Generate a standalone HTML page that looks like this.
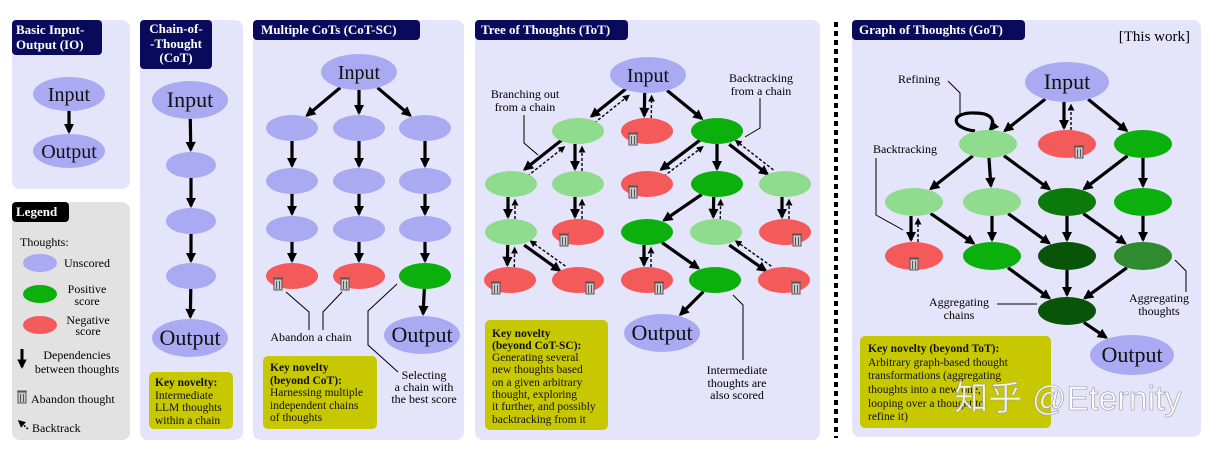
<!DOCTYPE html>
<html><head><meta charset="utf-8"><style>
html,body{margin:0;padding:0;background:#fff;}
svg{display:block;font-family:"Liberation Serif",serif;}
</style></head><body>
<svg id="s" width="1216" height="452" viewBox="0 0 1216 452" xmlns="http://www.w3.org/2000/svg">
<defs>
<marker id="ah" viewBox="0 0 10 10" refX="8" refY="5" markerWidth="3.2" markerHeight="3.2" orient="auto"><path d="M0,0L10,5L0,10z" fill="#000"/></marker>
<marker id="ahs" viewBox="0 0 10 10" refX="8" refY="5" markerWidth="5" markerHeight="5" orient="auto"><path d="M0,0L10,5L0,10z" fill="#000"/></marker>
</defs>
<g>
<rect x="12" y="20" width="118" height="169" rx="8" fill="#e4e4fb"/>
<rect x="12" y="202" width="118" height="238" rx="8" fill="#e2e2e2"/>
<rect x="140" y="20" width="103" height="420" rx="8" fill="#e4e4fb"/>
<rect x="253" y="20" width="211" height="420" rx="8" fill="#e4e4fb"/>
<rect x="475" y="20" width="345" height="420" rx="8" fill="#e4e4fb"/>
<rect x="852" y="20" width="349" height="417" rx="8" fill="#e4e4fb"/>
<line x1="836" y1="22" x2="836" y2="438" stroke="#000" stroke-width="4" stroke-dasharray="5,4"/>
</g>
<g font-weight="bold" font-size="13" fill="#fff">
<rect x="12" y="20" width="90" height="35" rx="4" fill="#0a0a5c"/>
<text x="16" y="34">Basic Input-</text>
<text x="16" y="49">Output (IO)</text>
<rect x="140" y="20" width="72" height="49" rx="4" fill="#0a0a5c"/>
<text x="176" y="33" text-anchor="middle">Chain-of-</text>
<text x="176" y="48" text-anchor="middle">-Thought</text>
<text x="176" y="62" text-anchor="middle">(CoT)</text>
<rect x="253" y="20" width="167" height="20" rx="4" fill="#0a0a5c"/>
<text x="261" y="34">Multiple CoTs (CoT-SC)</text>
<rect x="475" y="20" width="153" height="20" rx="4" fill="#0a0a5c"/>
<text x="481" y="34">Tree of Thoughts (ToT)</text>
<rect x="852" y="20" width="173" height="20" rx="4" fill="#0a0a5c"/>
<text x="859" y="34">Graph of Thoughts (GoT)</text>
<rect x="12" y="202" width="57" height="20" rx="4" fill="#000"/>
<text x="16" y="216">Legend</text>
</g>
<text x="1190" y="41" text-anchor="end" font-size="15">[This work]</text>
<g id="marks"></g>
<g font-size="12" fill="#000">
<text x="20" y="246">Thoughts:</text>
<ellipse cx="40" cy="263" rx="17" ry="9" fill="#aaaaf2"/>
<text x="64" y="267">Unscored</text>
<ellipse cx="40" cy="294" rx="17" ry="9" fill="#0cb00c"/>
<text x="87" y="293" text-anchor="middle">Positive</text>
<text x="87" y="305" text-anchor="middle">score</text>
<ellipse cx="40" cy="325" rx="17" ry="9" fill="#f45a5a"/>
<text x="88" y="324" text-anchor="middle">Negative</text>
<text x="88" y="335" text-anchor="middle">score</text>
<line x1="22" y1="349" x2="22" y2="367" stroke="#000" stroke-width="3" marker-end="url(#ah)"/>
<text x="77" y="359" text-anchor="middle">Dependencies</text>
<text x="77" y="373" text-anchor="middle">between thoughts</text>
<text x="31" y="403">Abandon thought</text>
<line x1="28" y1="429" x2="19" y2="421" stroke="#000" stroke-width="1.5" stroke-dasharray="2,1.5" marker-end="url(#ahs)"/>
<text x="32" y="432">Backtrack</text>
</g>
<g font-size="12" fill="#000" text-anchor="middle">
<text x="311" y="341">Abandon a chain</text>
<polyline points="286,292 309,312 309,330" fill="none" stroke="#000"/>
<polyline points="342,292 323,312 323,330" fill="none" stroke="#000"/>
<text x="424" y="379">Selecting</text>
<text x="424" y="391">a chain with</text>
<text x="424" y="403">the best score</text>
<polyline points="397,284 368,311 368,345 398,372" fill="none" stroke="#000"/>
<text x="525" y="98">Branching out</text>
<text x="525" y="111">from a chain</text>
<polyline points="524,115 524,143 538,155" fill="none" stroke="#000"/>
<text x="761" y="82">Backtracking</text>
<text x="761" y="95">from a chain</text>
<polyline points="760,98 760,128 745,137" fill="none" stroke="#000"/>
<text x="737" y="374">Intermediate</text>
<text x="737" y="387">thoughts are</text>
<text x="737" y="399">also scored</text>
<polyline points="733,295 743,305 743,360" fill="none" stroke="#000"/>
<text x="919" y="83">Refining</text>
<polyline points="948,81 960,93 960,115" fill="none" stroke="#000"/>
<text x="905" y="153">Backtracking</text>
<polyline points="876,158 876,215 903,230" fill="none" stroke="#000"/>
<text x="959" y="306">Aggregating</text>
<text x="959" y="319">chains</text>
<line x1="997" y1="304" x2="1037" y2="304" stroke="#000"/>
<text x="1159" y="302">Aggregating</text>
<text x="1159" y="315">thoughts</text>
<polyline points="1175,260 1186,271 1186,292" fill="none" stroke="#000"/>
</g>
<g font-size="11.5" fill="#111">
<rect x="149" y="372" width="84" height="57" rx="5" fill="#c8c800"/>
<text x="155" y="386" font-weight="bold">Key novelty:</text>
<text x="155" y="399">Intermediate</text>
<text x="155" y="411">LLM thoughts</text>
<text x="155" y="424">within a chain</text>
<rect x="263" y="356" width="114" height="73" rx="5" fill="#c8c800"/>
<text x="270" y="371" font-weight="bold">Key novelty</text>
<text x="270" y="384" font-weight="bold">(beyond CoT):</text>
<text x="270" y="396">Harnessing multiple</text>
<text x="270" y="409">independent chains</text>
<text x="270" y="421">of thoughts</text>
<rect x="485" y="320" width="123" height="110" rx="5" fill="#c8c800"/>
<text x="492" y="337" font-weight="bold">Key novelty</text>
<text x="492" y="349" font-weight="bold">(beyond CoT-SC):</text>
<text x="492" y="361">Generating several</text>
<text x="492" y="373">new thoughts based</text>
<text x="492" y="386">on a given arbitrary</text>
<text x="492" y="398">thought, exploring</text>
<text x="492" y="410">it further, and possibly</text>
<text x="492" y="423">backtracking from it</text>
<rect x="860" y="336" width="191" height="92" rx="5" fill="#c8c800"/>
<text x="868" y="352" font-weight="bold">Key novelty (beyond ToT):</text>
<text x="868" y="366">Arbitrary graph-based thought</text>
<text x="868" y="379">transformations (aggregating</text>
<text x="868" y="393">thoughts into a new one,</text>
<text x="868" y="407">looping over a thought to</text>
<text x="868" y="420">refine it)</text>
</g>
<text x="1068" y="410" text-anchor="middle" font-family="'Liberation Sans','Noto Sans CJK SC',sans-serif" font-size="34" fill="#fff" fill-opacity="0.85" stroke="#999" stroke-width="0.6">知乎 @Eternity</text>
</svg>
<script>
const NS="http://www.w3.org/2000/svg";
const C={u:"#aaaaf2",r:"#f45a5a",g:"#0cb00c",l:"#8fdc8f",d:"#0b7a0b",k:"#085408",m:"#2e8b2e"};
const nodes=[
["io-in",69,94,36,17,"u","Input"],["io-out",69,151,36,17,"u","Output"],
["cot-in",190,100,38,19,"u","Input"],["cot-1",191,165,25,13,"u"],["cot-2",191,221,25,13,"u"],["cot-3",191,276,25,13,"u"],["cot-out",190,338,38,19,"u","Output"],
["sc-in",359,72,38,18,"u","Input"],
["sc-a1",292,128,26,13,"u"],["sc-b1",359,128,26,13,"u"],["sc-c1",425,128,26,13,"u"],
["sc-a2",292,181,26,13,"u"],["sc-b2",359,181,26,13,"u"],["sc-c2",425,181,26,13,"u"],
["sc-a3",292,229,26,13,"u"],["sc-b3",359,229,26,13,"u"],["sc-c3",425,229,26,13,"u"],
["sc-a4",292,276,26,13,"r",null,"bl"],["sc-b4",359,276,26,13,"r",null,"bl"],["sc-c4",425,276,26,13,"g"],
["sc-out",422,335,38,19,"u","Output"],
["tot-in",648,75,38,18,"u","Input"],
["t1a",578,131,26,13,"l"],["t1b",647,131,26,13,"r",null,"bl"],["t1c",717,131,26,13,"g"],
["t2a",511,184,26,13,"l"],["t2b",578,184,26,13,"l"],["t2c",647,184,26,13,"r",null,"bl"],["t2d",717,184,26,13,"g"],["t2e",785,184,26,13,"l"],
["t3a",511,232,26,13,"l"],["t3b",578,232,26,13,"r",null,"bl"],["t3c",647,232,26,13,"g"],["t3d",716,232,26,13,"l"],["t3e",785,232,26,13,"r",null,"br"],
["t4a",510,280,26,13,"r",null,"bl"],["t4b",578,280,26,13,"r",null,"br"],["t4c",647,280,26,13,"r",null,"br"],["t4d",715,280,26,13,"g"],["t4e",784,280,26,13,"r",null,"br"],
["tot-out",662,333,38,19,"u","Output"],
["got-in",1067,82,42,20,"u","Input"],
["g1a",988,144,29,14,"l"],["g1b",1067,144,29,14,"r",null,"br"],["g1c",1143,144,29,14,"g"],
["g2a",914,202,29,14,"l"],["g2b",992,202,29,14,"l"],["g2c",1067,202,29,14,"d"],["g2d",1143,202,29,14,"g"],
["g3a",914,256,29,14,"r",null,"c"],["g3b",992,256,29,14,"g"],["g3c",1067,256,29,14,"k"],["g3d",1143,256,29,14,"m"],
["g4",1067,311,29,14,"k"],["got-out",1132,355,42,20,"u","Output"]
];
const edges=[
["io-in","io-out","s"],["cot-in","cot-1","s"],["cot-1","cot-2","s"],["cot-2","cot-3","s"],["cot-3","cot-out","s"],
["sc-in","sc-a1","s"],["sc-in","sc-b1","s"],["sc-in","sc-c1","s"],
["sc-a1","sc-a2","s"],["sc-b1","sc-b2","s"],["sc-c1","sc-c2","s"],["sc-a2","sc-a3","s"],["sc-b2","sc-b3","s"],["sc-c2","sc-c3","s"],
["sc-a3","sc-a4","s"],["sc-b3","sc-b4","s"],["sc-c3","sc-c4","s"],["sc-c4","sc-out","s"],
["tot-in","t1a","b"],["tot-in","t1b","b"],["tot-in","t1c","s"],
["t1a","t2a","b"],["t1a","t2b","b"],["t1c","t2c","b"],["t1c","t2d","s"],["t1c","t2e","b"],
["t2a","t3a","b"],["t2b","t3b","b"],["t2d","t3c","s"],["t2d","t3d","b"],["t2e","t3e","b"],
["t3a","t4a","b"],["t3a","t4b","b"],["t3c","t4c","b"],["t3c","t4d","s"],["t3d","t4e","b"],["t4d","tot-out","s"],
["got-in","g1a","s"],["got-in","g1b","b"],["got-in","g1c","s"],
["g1a","g2a","s"],["g1a","g2b","s"],["g1a","g2c","s"],["g1c","g2c","s"],["g1c","g2d","s"],
["g2a","g3a","b"],["g2a","g3b","s"],["g2b","g3b","s"],["g2b","g3c","s"],["g2c","g3c","s"],["g2c","g3d","s"],["g2d","g3d","s"],
["g3b","g4","s"],["g3c","g4","s"],["g3d","g4","s"],["g4","got-out","s"]
];
const svg=document.getElementById("marks");
const N={};nodes.forEach(n=>N[n[0]]=n);
function bpt(n,dx,dy){const cx=n[1],cy=n[2],rx=n[3],ry=n[4];const t=1/Math.sqrt((dx*dx)/(rx*rx)+(dy*dy)/(ry*ry));return[cx+dx*t,cy+dy*t];}
function mk(tag,attrs){const e=document.createElementNS(NS,tag);for(const k in attrs)e.setAttribute(k,attrs[k]);return e;}
const eg=mk("g",{});svg.appendChild(eg);
edges.forEach(([f,t,ty])=>{
  const a=N[f],b=N[t];const dx=b[1]-a[1],dy=b[2]-a[2];const L=Math.hypot(dx,dy);const ux=dx/L,uy=dy/L;
  const nx=-uy,ny=ux; // perpendicular
  const off=ty==="b"?3:0;
  const p1=bpt(a,dx,dy),p2=bpt(b,-dx,-dy);
  const ln=mk("line",{x1:p1[0]+nx*off,y1:p1[1]+ny*off,x2:p2[0]+nx*off-ux*2,y2:p2[1]+ny*off-uy*2,stroke:"#000","stroke-width":3.2,"marker-end":"url(#ah)"});
  
  
  eg.appendChild(ln);
  if(ty==="b"){
    const q=-4;
    const bl=mk("line",{x1:p2[0]+nx*q,y1:p2[1]+ny*q,x2:p1[0]+nx*q+ux*3,y2:p1[1]+ny*q+uy*3,stroke:"#000","stroke-width":1.4,"stroke-dasharray":"3,2","marker-end":"url(#ahs)"});
    
    
    eg.appendChild(bl);
  }
});
const loop=mk("path",{d:"M975,131 C950,128 950,112 975,113 C995,113 995,124 990,130",fill:"none",stroke:"#000","stroke-width":3.2,"marker-end":"url(#ah)"});


eg.appendChild(loop);
function trash(x,y){const g=mk("g",{fill:"none",stroke:"#555","stroke-width":1});
  g.appendChild(mk("rect",{x:x-4,y:y-5,width:8,height:11,fill:"#ccc"}));
  g.appendChild(mk("line",{x1:x-5,y1:y-6,x2:x+5,y2:y-6}));
  g.appendChild(mk("line",{x1:x-1.5,y1:y-3,x2:x-1.5,y2:y+5}));g.appendChild(mk("line",{x1:x+1.5,y1:y-3,x2:x+1.5,y2:y+5}));
  return g;}
nodes.forEach(n=>{
  const[id,cx,cy,rx,ry,c,lab,tr]=n;
  const e=mk("ellipse",{cx,cy,rx,ry,fill:C[c]});
  
  
  svg.appendChild(e);
  if(lab){const t=mk("text",{x:cx,y:cy+7,"text-anchor":"middle","font-size":ry>=19?22:20,fill:"#111"});t.textContent=lab;
    
    
    svg.appendChild(t);}
  if(tr){const tx=tr==="bl"?cx-14:(tr==="c"?cx:cx+12);const g=trash(tx,cy+8);
    
    
    svg.appendChild(g);}
});
const lt=trash(22,397);


document.getElementById("s").appendChild(lt);
</script>
</body></html>
